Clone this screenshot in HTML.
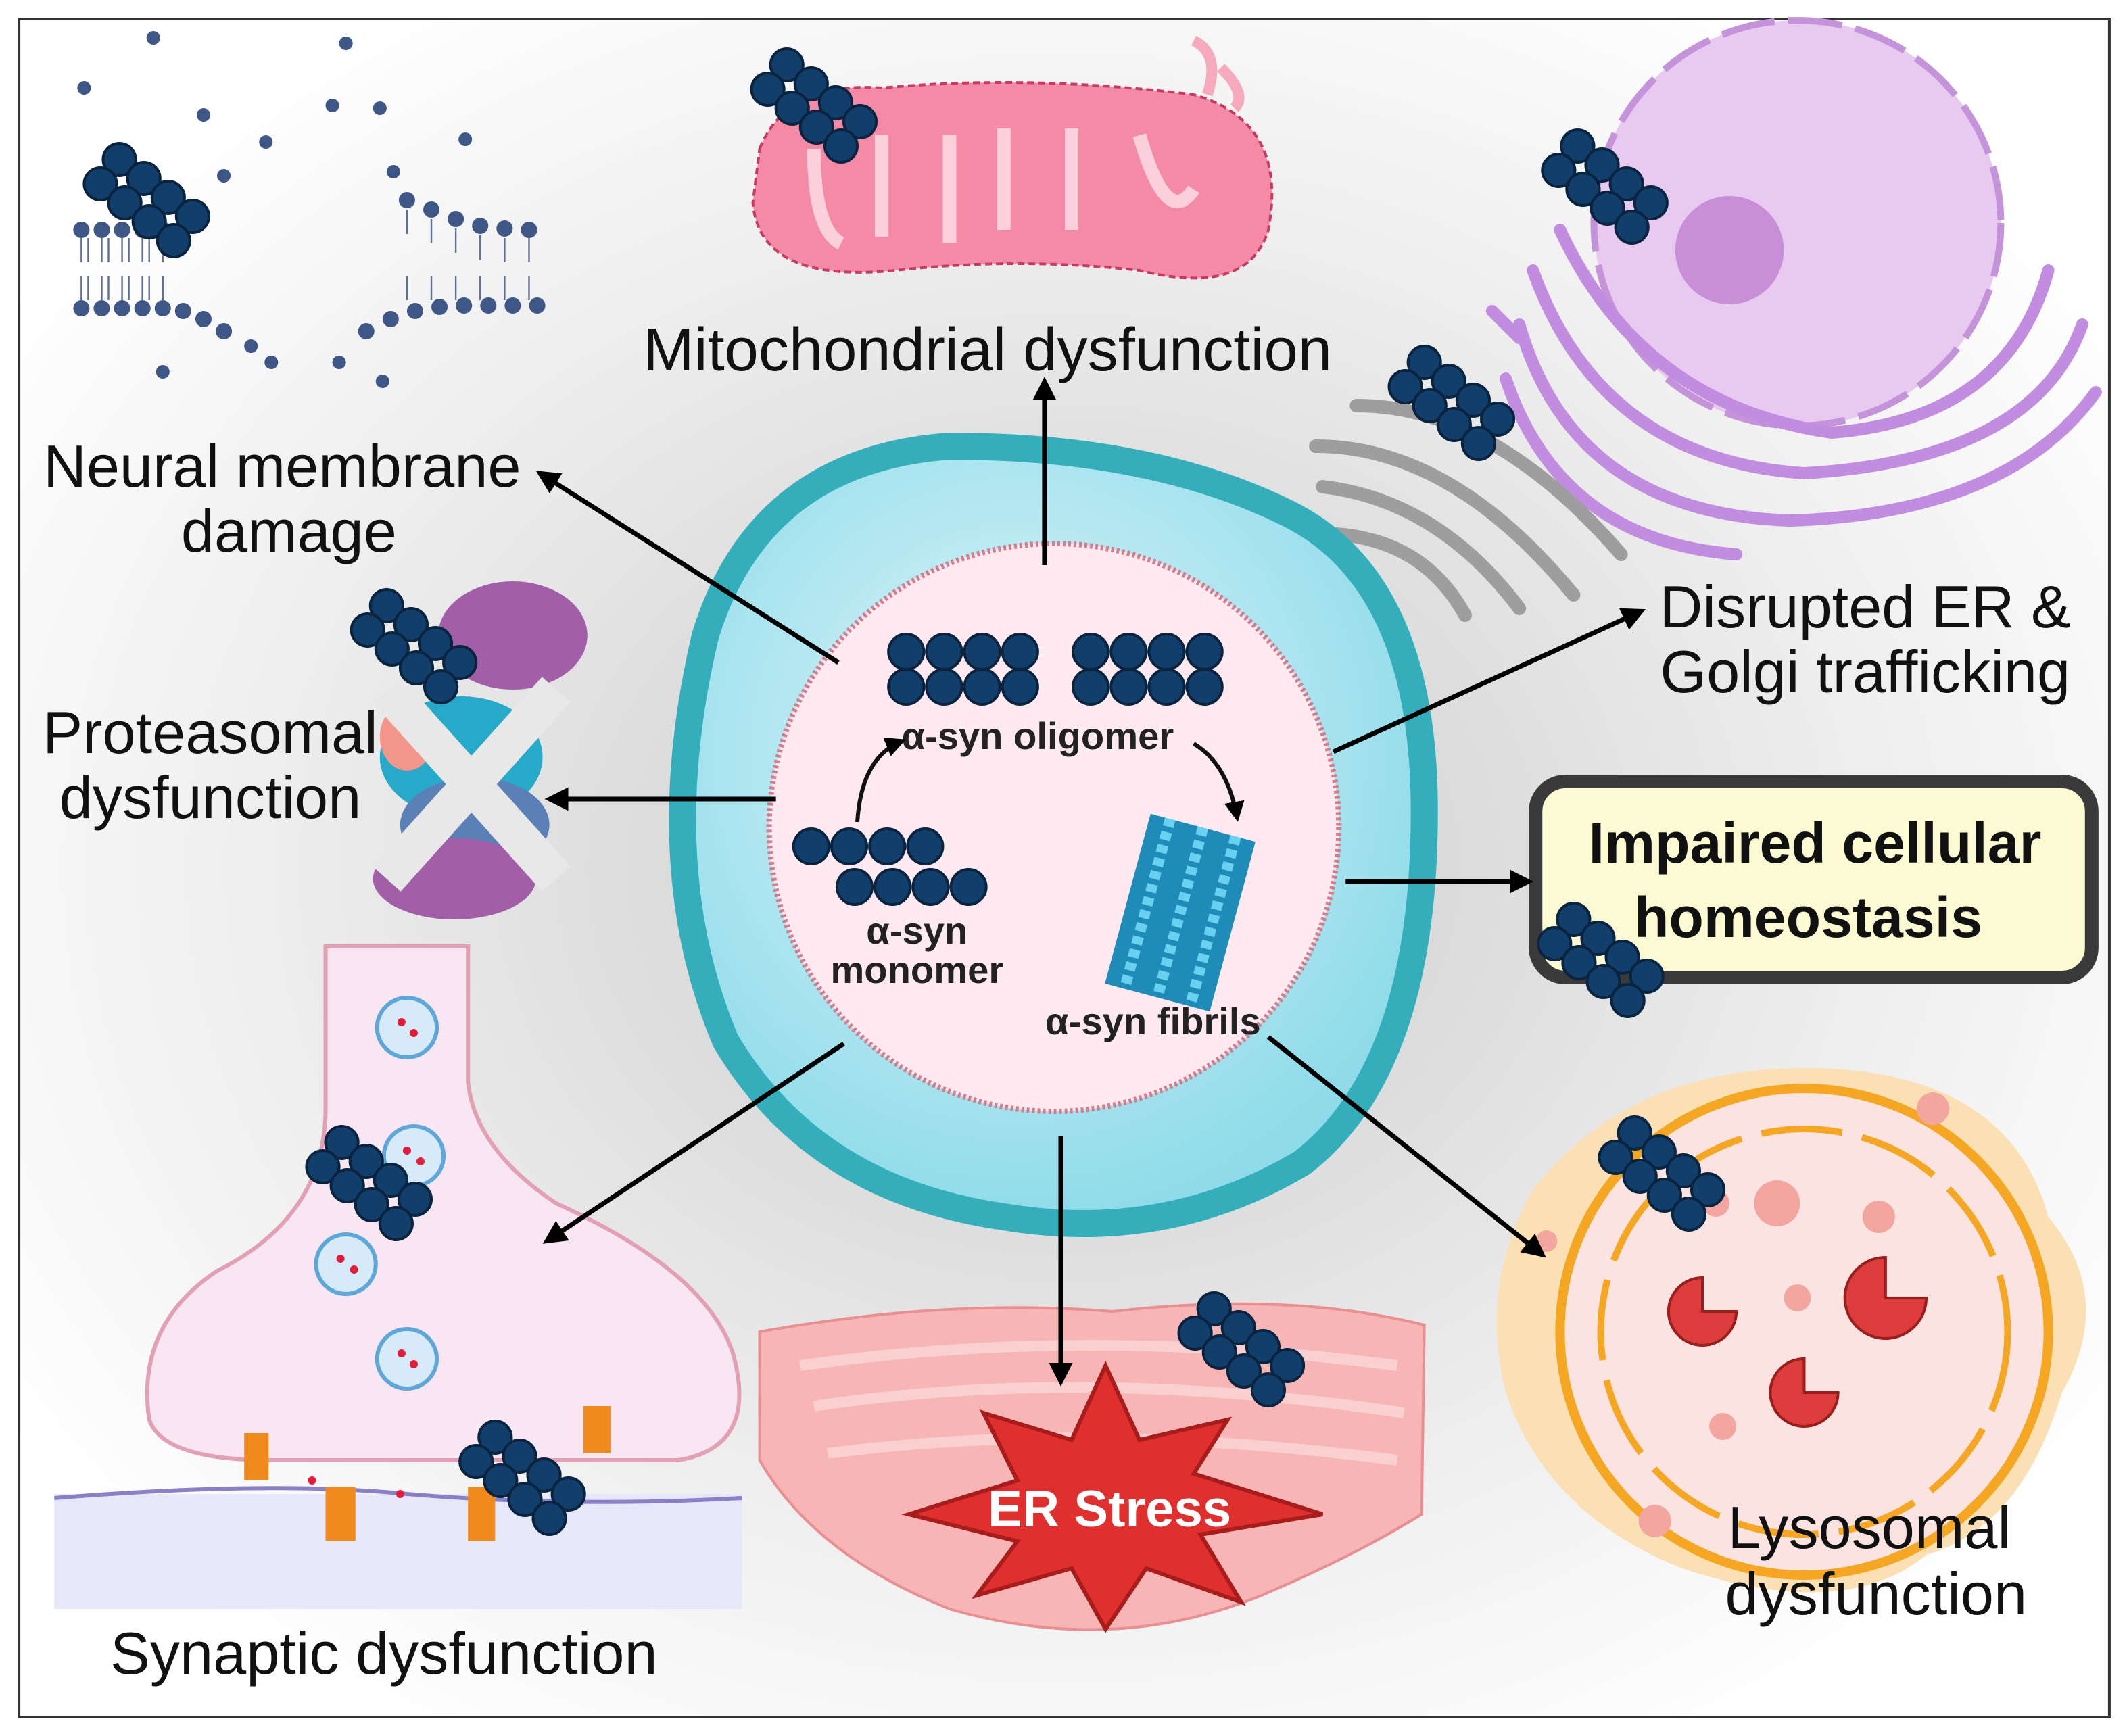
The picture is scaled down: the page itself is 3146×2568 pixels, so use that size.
<!DOCTYPE html>
<html><head><meta charset="utf-8">
<style>
html,body{margin:0;padding:0;background:#fff;}
svg{display:block;}
text{font-family:"Liberation Sans",Arial,sans-serif;}
</style></head>
<body>
<svg width="3146" height="2568" viewBox="0 0 1568 1284" preserveAspectRatio="none" xmlns="http://www.w3.org/2000/svg">
<defs>
<radialGradient id="bg" cx="0.5" cy="0.5" r="0.6">
<stop offset="0" stop-color="#c9c9c9"/><stop offset="0.6" stop-color="#ececec"/><stop offset="1" stop-color="#ffffff"/>
</radialGradient>
<radialGradient id="cell" cx="0.45" cy="0.4" r="0.6">
<stop offset="0" stop-color="#dff6fb"/><stop offset="1" stop-color="#8fdbe9"/>
</radialGradient>
<g id="olig">
<circle cx="0" cy="0" r="12" fill="#123e6b" stroke="#0a2440" stroke-width="2"/>
<circle cx="18" cy="14" r="12" fill="#123e6b" stroke="#0a2440" stroke-width="2"/>
<circle cx="36" cy="28" r="12" fill="#123e6b" stroke="#0a2440" stroke-width="2"/>
<circle cx="54" cy="42" r="12" fill="#123e6b" stroke="#0a2440" stroke-width="2"/>
<circle cx="-14" cy="18" r="12" fill="#123e6b" stroke="#0a2440" stroke-width="2"/>
<circle cx="4" cy="32" r="12" fill="#123e6b" stroke="#0a2440" stroke-width="2"/>
<circle cx="22" cy="46" r="12" fill="#123e6b" stroke="#0a2440" stroke-width="2"/>
<circle cx="40" cy="60" r="12" fill="#123e6b" stroke="#0a2440" stroke-width="2"/>
</g>
<g id="row4">
<circle cx="0" cy="0" r="13" fill="#123e6b" stroke="#0a2440" stroke-width="2"/>
<circle cx="28" cy="0" r="13" fill="#123e6b" stroke="#0a2440" stroke-width="2"/>
<circle cx="56" cy="0" r="13" fill="#123e6b" stroke="#0a2440" stroke-width="2"/>
<circle cx="84" cy="0" r="13" fill="#123e6b" stroke="#0a2440" stroke-width="2"/>
</g>
<marker id="ah" markerWidth="5" markerHeight="5" refX="4" refY="2.5" orient="auto" markerUnits="strokeWidth">
<path d="M0,0 L5,2.5 L0,5 z" fill="#000"/></marker>
</defs>
<rect x="0" y="0" width="1568" height="1284" fill="#fff"/>
<rect x="14" y="14" width="1541" height="1256" fill="url(#bg)" stroke="#333" stroke-width="2"/>

<!-- membrane top-left -->
<g fill="#3f5787">
<circle cx="60" cy="170" r="6"/><circle cx="75" cy="170" r="6"/><circle cx="90" cy="170" r="6"/><circle cx="105" cy="170" r="6"/><circle cx="120" cy="170" r="6"/>
<circle cx="60" cy="228" r="6"/><circle cx="75" cy="228" r="6"/><circle cx="90" cy="228" r="6"/><circle cx="105" cy="228" r="6"/><circle cx="120" cy="228" r="6"/><circle cx="135" cy="230" r="6"/><circle cx="150" cy="236" r="6"/><circle cx="165" cy="245" r="6"/>
<circle cx="300" cy="148" r="6"/><circle cx="318" cy="155" r="6"/><circle cx="336" cy="162" r="6"/><circle cx="354" cy="167" r="6"/><circle cx="372" cy="169" r="6"/><circle cx="390" cy="170" r="6"/>
<circle cx="270" cy="245" r="6"/><circle cx="288" cy="236" r="6"/><circle cx="306" cy="230" r="6"/><circle cx="324" cy="227" r="6"/><circle cx="342" cy="226" r="6"/><circle cx="360" cy="226" r="6"/><circle cx="378" cy="226" r="6"/><circle cx="396" cy="226" r="6"/>
<circle cx="62" cy="65" r="5"/><circle cx="113" cy="28" r="5"/><circle cx="150" cy="85" r="5"/><circle cx="196" cy="105" r="5"/><circle cx="245" cy="78" r="5"/><circle cx="280" cy="80" r="5"/><circle cx="343" cy="103" r="5"/><circle cx="255" cy="32" r="5"/><circle cx="165" cy="130" r="5"/><circle cx="290" cy="127" r="5"/><circle cx="120" cy="275" r="5"/><circle cx="200" cy="268" r="5"/><circle cx="282" cy="282" r="5"/><circle cx="250" cy="268" r="5"/><circle cx="185" cy="256" r="5"/>
</g>
<g stroke="#5d6f95" stroke-width="1.2">
<path d="M60 176v18 M65 176v18 M75 176v18 M80 176v18 M90 176v18 M95 176v18 M105 176v18 M110 176v18 M120 176v18 M60 204v18 M65 204v18 M75 204v18 M80 204v18 M90 204v18 M95 204v18 M105 204v18 M110 204v18 M120 204v18 M300 155v18 M318 162v18 M336 169v18 M354 174v18 M372 176v18 M390 176v18 M300 204v18 M318 204v18 M336 204v18 M354 204v18 M372 204v18 M390 204v18"/>
</g>
<use href="#olig" x="88" y="118"/>

<!-- mitochondria -->
<path d="M560 110 Q580 60 650 65 Q760 55 880 70 Q950 90 935 170 Q920 220 840 200 Q750 190 660 200 Q560 210 555 150 Z" fill="#f48aa6" stroke="#c73b63" stroke-width="2" stroke-dasharray="5 3"/>
<path d="M600 110 Q600 170 620 180 M650 100 L650 175 M700 100 L700 180 M740 95 L740 170 M790 95 L790 170 M840 100 Q860 170 880 140" stroke="#fbd0dc" stroke-width="10" fill="none"/>
<path d="M880 30 Q900 40 890 70 M900 50 Q920 70 910 80" stroke="#f7a9bd" stroke-width="8" fill="none"/>
<use href="#olig" x="580" y="48"/>
<text x="728" y="274" font-size="45" text-anchor="middle" fill="#111">Mitochondrial dysfunction</text>

<!-- ER/Golgi top right -->
<circle cx="1325" cy="165" r="150" fill="#e8c9f0" stroke="#c493d9" stroke-width="5" stroke-dasharray="40 10"/>
<circle cx="1275" cy="185" r="40" fill="#c98ed8"/>
<g fill="none" stroke="#c28de0" stroke-width="9" stroke-linecap="round">
<path d="M1150 170 Q1210 300 1350 320 Q1480 310 1510 200"/>
<path d="M1130 200 Q1180 340 1330 350 Q1500 340 1535 240"/>
<path d="M1120 240 Q1160 380 1320 385 Q1480 380 1545 290"/>
<path d="M1110 280 Q1150 400 1280 410"/>
<path d="M1100 230 L1120 250"/>
</g>
<g fill="none" stroke="#9e9e9e" stroke-width="10" stroke-linecap="round">
<path d="M970 330 Q1070 330 1160 440"/>
<path d="M975 360 Q1060 370 1120 450"/>
<path d="M985 395 Q1050 400 1080 455"/>
<path d="M1000 300 Q1100 300 1195 410"/>
</g>
<use href="#olig" x="1163" y="108"/>
<use href="#olig" x="1050" y="268"/>
<text x="1375" y="464" font-size="44" text-anchor="middle" fill="#111">Disrupted ER &amp;</text>
<text x="1375" y="512" font-size="44" text-anchor="middle" fill="#111">Golgi trafficking</text>

<!-- proteasome -->
<g>
<ellipse cx="378" cy="470" rx="55" ry="40" fill="#a25fa8"/>
<ellipse cx="340" cy="560" rx="60" ry="45" fill="#27a9c9"/>
<ellipse cx="350" cy="610" rx="55" ry="35" fill="#5b7fb7"/>
<ellipse cx="300" cy="545" rx="20" ry="25" fill="#f3958a"/>
<ellipse cx="335" cy="650" rx="60" ry="30" fill="#a25fa8"/>
<path d="M285 510 L410 650 M410 510 L285 650" stroke="#e8e8e8" stroke-width="28"/>
</g>
<use href="#olig" x="285" y="448"/>
<text x="155" y="557" font-size="44" text-anchor="middle" fill="#111">Proteasomal</text>
<text x="155" y="605" font-size="44" text-anchor="middle" fill="#111">dysfunction</text>
<text x="208" y="360" font-size="44" text-anchor="middle" fill="#111">Neural membrane</text>
<text x="213" y="408" font-size="44" text-anchor="middle" fill="#111">damage</text>

<!-- cell -->
<path d="M520 470 Q560 340 700 330 Q850 330 950 380 Q1050 430 1050 600 Q1050 790 960 860 Q860 920 740 900 Q600 880 535 770 Q480 640 520 470 Z" fill="url(#cell)" stroke="#35aebc" stroke-width="20"/>
<circle cx="777" cy="612" r="210" fill="#fde9ef" stroke="#d97a8a" stroke-width="4" stroke-dasharray="2 2"/>
<use href="#row4" x="668" y="482"/><use href="#row4" x="668" y="508"/>
<use href="#row4" x="804" y="482"/><use href="#row4" x="804" y="508"/>
<use href="#row4" x="598" y="626"/><use href="#row4" x="630" y="656"/>
<text x="765" y="554" font-size="28" font-weight="bold" text-anchor="middle" fill="#222">α-syn oligomer</text>
<text x="676" y="698" font-size="28" font-weight="bold" text-anchor="middle" fill="#222">α-syn</text>
<text x="676" y="727" font-size="28" font-weight="bold" text-anchor="middle" fill="#222">monomer</text>
<text x="850" y="765" font-size="28" font-weight="bold" text-anchor="middle" fill="#222">α-syn fibrils</text>
<path d="M632 608 Q635 560 665 548" fill="none" stroke="#111" stroke-width="3" marker-end="url(#ah)"/>
<path d="M880 550 Q905 565 912 605" fill="none" stroke="#111" stroke-width="3" marker-end="url(#ah)"/>
<g transform="translate(870 675) rotate(15)">
<rect x="-40" y="-65" width="80" height="130" fill="#1e8bb8"/>
<path d="M-25 -65v130 M0 -65v130 M25 -65v130" stroke="#6ad0ef" stroke-width="8" stroke-dasharray="6 4"/>
</g>

<!-- impaired box -->
<rect x="1132" y="578" width="410" height="145" rx="22" fill="#fbfad2" stroke="#3a3a3a" stroke-width="10"/>
<text x="1338" y="638" font-size="42" font-weight="bold" text-anchor="middle" fill="#111">Impaired cellular</text>
<text x="1333" y="693" font-size="42" font-weight="bold" text-anchor="middle" fill="#111">homeostasis</text>
<use href="#olig" x="1160" y="680"/>

<!-- synapse -->
<path d="M240 700 L240 820 Q240 900 160 940 Q100 980 110 1050 Q120 1080 200 1080 L500 1080 Q560 1070 540 1000 Q520 940 410 890 Q350 850 345 800 L345 700 Z" fill="#f8e6f2" stroke="#e3a0b4" stroke-width="3"/>
<rect x="40" y="1105" width="507" height="85" fill="#e6e8fa"/>
<path d="M40 1108 Q200 1095 300 1105 Q420 1115 547 1108" fill="none" stroke="#8b80c8" stroke-width="3"/>
<g fill="#d6eaf8" stroke="#5ea7d8" stroke-width="3">
<circle cx="300" cy="760" r="22"/><circle cx="305" cy="855" r="22"/><circle cx="255" cy="935" r="22"/><circle cx="300" cy="1005" r="22"/>
</g>
<g fill="#e01e3c"><circle cx="296" cy="756" r="3"/><circle cx="305" cy="764" r="3"/><circle cx="300" cy="851" r="3"/><circle cx="310" cy="859" r="3"/><circle cx="251" cy="931" r="3"/><circle cx="261" cy="939" r="3"/><circle cx="296" cy="1001" r="3"/><circle cx="305" cy="1009" r="3"/><circle cx="230" cy="1095" r="3"/><circle cx="295" cy="1105" r="3"/><circle cx="368" cy="1060" r="3"/></g>
<g fill="#f08a1c"><rect x="180" y="1060" width="18" height="35"/><rect x="240" y="1100" width="22" height="40"/><rect x="345" y="1100" width="20" height="40"/><rect x="430" y="1040" width="20" height="35"/></g>
<use href="#olig" x="252" y="845"/>
<use href="#olig" x="365" y="1063"/>
<text x="283" y="1238" font-size="44" text-anchor="middle" fill="#111">Synaptic dysfunction</text>

<!-- ER stress -->
<path d="M560 985 Q700 960 820 970 Q950 955 1050 980 L1048 1120 Q1000 1150 930 1180 Q820 1225 700 1190 Q600 1150 560 1080 Z" fill="#f7b5b6" stroke="#e98e91" stroke-width="2"/>
<g fill="none" stroke="#f9cfd0" stroke-width="8"><path d="M590 1010 Q800 980 1030 1010"/><path d="M600 1040 Q800 1010 1035 1045"/><path d="M610 1075 Q800 1050 1030 1080"/></g>
<path d="M815 1010 L840 1065 L905 1050 L880 1090 L975 1120 L885 1135 L915 1185 L845 1160 L815 1205 L790 1160 L720 1180 L750 1140 L670 1120 L750 1095 L725 1045 L790 1065 Z" fill="#e02f2f" stroke="#a81c1c" stroke-width="3"/>
<text x="818" y="1129" font-size="38" font-weight="bold" text-anchor="middle" fill="#fff">ER Stress</text>
<use href="#olig" x="895" y="968"/>

<!-- lysosome -->
<path d="M1130 880 Q1200 790 1330 790 Q1480 790 1510 900 Q1560 960 1520 1030 Q1490 1130 1420 1150 Q1360 1200 1240 1160 Q1140 1120 1110 1030 Q1090 950 1130 880 Z" fill="#fbe0b6"/>
<circle cx="1330" cy="985" r="180" fill="#fbe3e2" stroke="#f5a623" stroke-width="7"/>
<circle cx="1330" cy="985" r="150" fill="none" stroke="#f5a623" stroke-width="5" stroke-dasharray="60 15"/>
<g fill="#dc3c3c" stroke="#9b1e1e" stroke-width="2">
<path d="M1255 970 m0 -25 a25 25 0 1 0 25 25 l-25 0 z"/>
<path d="M1390 960 m0 -30 a30 30 0 1 0 30 30 l-30 0 z"/>
<path d="M1330 1030 m0 -25 a25 25 0 1 0 25 25 l-25 0 z"/>
</g>
<g fill="#f3a5a0"><circle cx="1310" cy="890" r="17"/><circle cx="1425" cy="820" r="12"/><circle cx="1385" cy="900" r="12"/><circle cx="1265" cy="890" r="10"/><circle cx="1270" cy="1055" r="10"/><circle cx="1220" cy="1125" r="12"/><circle cx="1140" cy="918" r="8"/><circle cx="1325" cy="960" r="10"/></g>
<use href="#olig" x="1205" y="838"/>
<text x="1378" y="1145" font-size="44" text-anchor="middle" fill="#111">Lysosomal</text>
<text x="1383" y="1194" font-size="44" text-anchor="middle" fill="#111">dysfunction</text>

<!-- arrows -->
<g stroke="#000" stroke-width="3.5" fill="none" marker-end="url(#ah)">
<line x1="770" y1="418" x2="770" y2="282"/>
<line x1="618" y1="490" x2="398" y2="350"/>
<line x1="572" y1="591" x2="405" y2="591"/>
<line x1="983" y1="556" x2="1210" y2="452"/>
<line x1="992" y1="652" x2="1127" y2="652"/>
<line x1="935" y1="767" x2="1137" y2="928"/>
<line x1="782" y1="840" x2="782" y2="1022"/>
<line x1="622" y1="772" x2="403" y2="918"/>
</g>
</svg>
</body></html>
